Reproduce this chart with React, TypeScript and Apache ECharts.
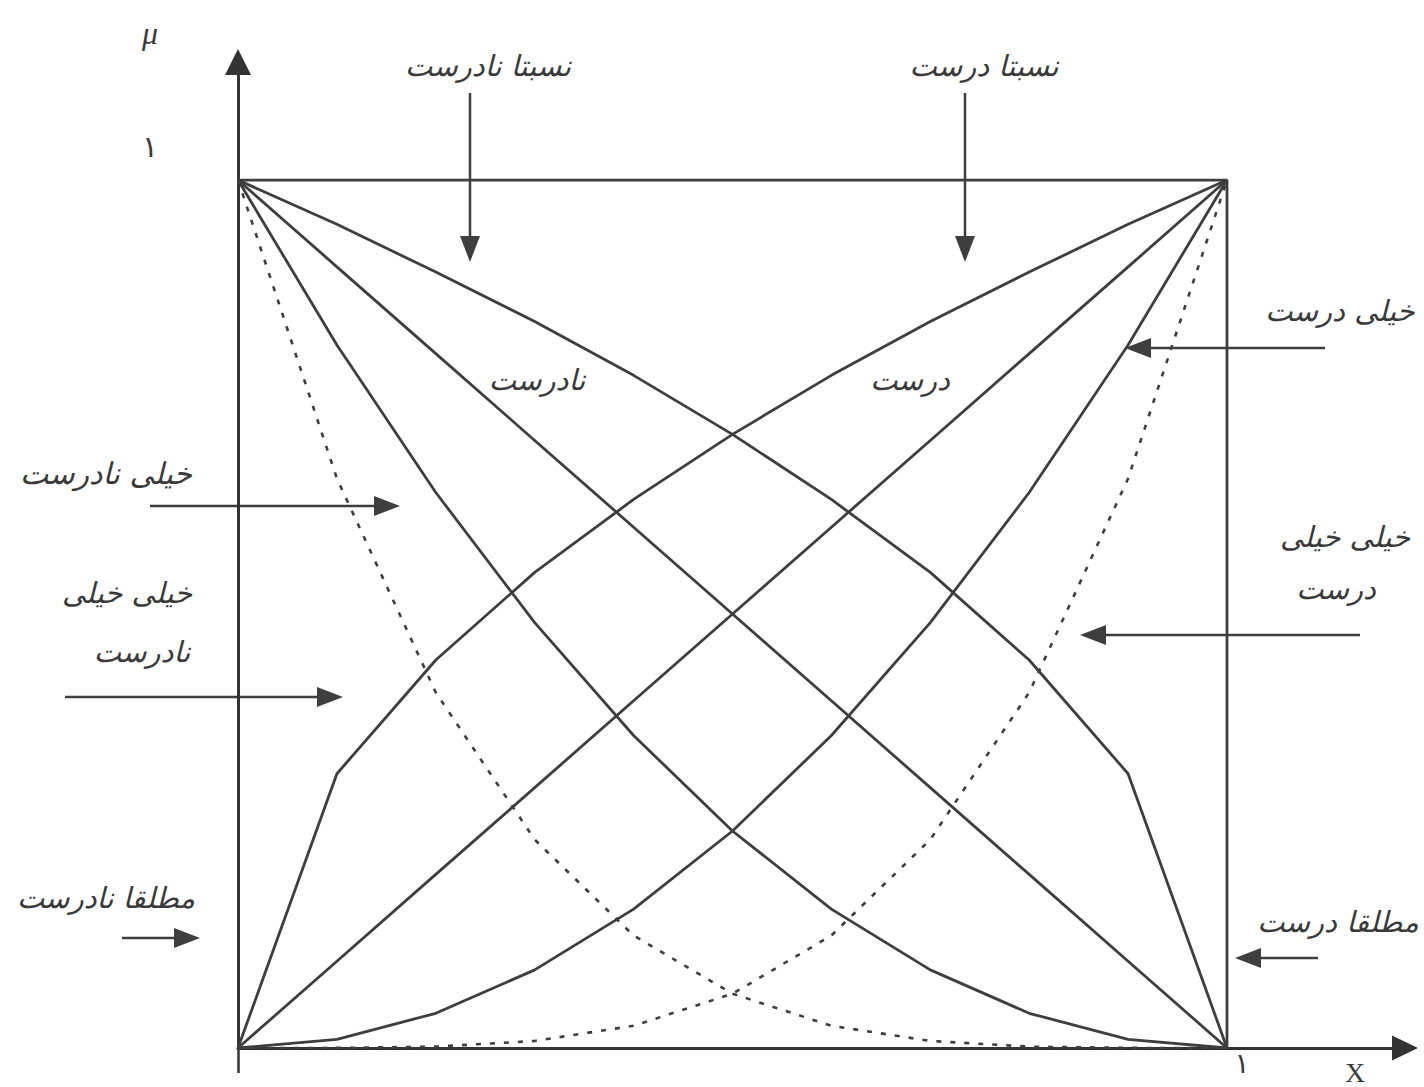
import React, { useEffect, useRef } from "react";
import * as echarts from "echarts";

// x positions of the polyline vertices
const xs = [0, 0.1, 0.2, 0.3, 0.4, 0.5, 0.6, 0.7, 0.8, 0.9, 1];
// rising curves (درست family)
const somewhatTrue = [0, 0.316, 0.447, 0.548, 0.632, 0.707, 0.775, 0.837, 0.894, 0.949, 1];
const trueVals = [0, 0.1, 0.2, 0.3, 0.4, 0.5, 0.6, 0.7, 0.8, 0.9, 1];
const veryTrue = [0, 0.01, 0.04, 0.09, 0.16, 0.25, 0.36, 0.49, 0.64, 0.81, 1];
const veryVeryTrue = [0, 0.0001, 0.0016, 0.0081, 0.0256, 0.0625, 0.1296, 0.2401, 0.4096, 0.6561, 1];
// falling curves (نادرست family)
const somewhatFalse = [1, 0.949, 0.894, 0.837, 0.775, 0.707, 0.632, 0.548, 0.447, 0.316, 0];
const falseVals = [1, 0.9, 0.8, 0.7, 0.6, 0.5, 0.4, 0.3, 0.2, 0.1, 0];
const veryFalse = [1, 0.81, 0.64, 0.49, 0.36, 0.25, 0.16, 0.09, 0.04, 0.01, 0];
const veryVeryFalse = [1, 0.6561, 0.4096, 0.2401, 0.1296, 0.0625, 0.0256, 0.0081, 0.0016, 0.0001, 0];
// frame: μ = 1 top line and absolutely-true vertical at x = 1
const frameX = [0, 1, 1];
const frameY = [1, 1, 0];

const xTickValues = [1];
const xTickLabels = ["۱"];
const yTickValues = [1];
const yTickLabels = ["۱"];

const LINE = "#3e3e3e";
const TEXT = "#3a3a3a";

function pairs(xv: number[], yv: number[]) {
  return xv.map((x, i) => [x, yv[i]]);
}

function arrow(x1: number, y1: number, x2: number, y2: number) {
  const dx = x2 - x1;
  const dy = y2 - y1;
  const len = Math.hypot(dx, dy);
  const ux = dx / len;
  const uy = dy / len;
  const hl = 26;
  const hw = 10;
  const bx = x2 - ux * hl;
  const by = y2 - uy * hl;
  return [
    {
      type: "line",
      shape: { x1, y1, x2: bx + ux * 2, y2: by + uy * 2 },
      style: { stroke: LINE, lineWidth: 2.5 },
    },
    {
      type: "polygon",
      shape: {
        points: [
          [x2, y2],
          [bx - uy * hw, by + ux * hw],
          [bx + uy * hw, by - ux * hw],
        ],
      },
      style: { fill: LINE },
    },
  ];
}

function label(text: string, x: number, y: number, size = 29) {
  return {
    type: "text",
    x,
    y,
    style: {
      text,
      fontSize: size,
      fontFamily: "DejaVu Sans",
      fontStyle: "italic",
      fill: TEXT,
      align: "center",
      verticalAlign: "middle",
    },
  };
}

export default function App() {
  const ref = useRef<HTMLDivElement>(null);

  useEffect(() => {
    if (!ref.current) return;
    const chart = echarts.init(ref.current, null, { renderer: "svg" });

    const solid = (name: string, xv: number[], yv: number[]) => ({
      name,
      type: "line",
      data: pairs(xv, yv),
      symbol: "none",
      lineStyle: { color: LINE, width: 2.8 },
      silent: true,
    });
    const dashed = (name: string, xv: number[], yv: number[]) => ({
      name,
      type: "line",
      data: pairs(xv, yv),
      symbol: "none",
      lineStyle: { color: LINE, width: 2.6, type: [5, 9] },
      silent: true,
    });

    const graphics: any[] = [
      ...arrow(470, 93, 470, 262),
      ...arrow(965, 93, 965, 262),
      ...arrow(1325, 348, 1125, 348),
      ...arrow(150, 506, 400, 506),
      ...arrow(65, 697, 343, 697),
      ...arrow(1360, 635, 1080, 635),
      ...arrow(122, 938, 200, 938),
      ...arrow(1318, 958, 1235, 958),
      label("نسبتا نادرست", 488, 66),
      label("نسبتا درست", 984, 66),
      label("خیلی درست", 1340, 311),
      label("نادرست", 537, 380),
      label("درست", 910, 380),
      label("خیلی نادرست", 106, 473, 30),
      label("خیلی خیلی", 127, 593),
      label("نادرست", 142, 652),
      label("خیلی خیلی", 1345, 537),
      label("درست", 1336, 589),
      label("مطلقا نادرست", 106, 898),
      label("مطلقا درست", 1338, 922),
      {
        type: "text",
        x: 150,
        y: 33,
        style: {
          text: "μ",
          fontSize: 32,
          fontFamily: "Liberation Serif",
          fontStyle: "italic",
          fill: TEXT,
          align: "center",
          verticalAlign: "middle",
        },
      },
      {
        type: "text",
        x: 1355,
        y: 1072,
        style: {
          text: "X",
          fontSize: 28,
          fontFamily: "Liberation Serif",
          fill: TEXT,
          align: "center",
          verticalAlign: "middle",
        },
      },
    ];

    chart.setOption({
      animation: false,
      backgroundColor: "#ffffff",
      grid: { left: 238, top: 62, right: 19, bottom: 39, containLabel: false },
      xAxis: {
        type: "value",
        min: 0,
        max: 1.18,
        splitLine: { show: false },
        axisLine: {
          show: true,
          lineStyle: { color: "#333", width: 3 },
          symbol: ["none", "triangle"],
          symbolSize: [25, 26],
        },
        axisTick: { show: true, customValues: [0], length: 25, lineStyle: { color: "#333", width: 2.5 } },
        axisLabel: {
          show: true,
          customValues: xTickValues,
          formatter: (v: number) => "{a|" + (xTickLabels[xTickValues.indexOf(v)] ?? "") + "}",
          rich: { a: { fontSize: 28, fontFamily: "DejaVu Sans", color: TEXT, padding: [0, 0, 0, 30] } },
          margin: 1,
        },
      },
      yAxis: {
        type: "value",
        min: 0,
        max: 1.136,
        splitLine: { show: false },
        axisLine: {
          show: true,
          lineStyle: { color: "#333", width: 3 },
          symbol: ["none", "triangle"],
          symbolSize: [26, 26],
        },
        axisTick: { show: false },
        axisLabel: {
          show: true,
          customValues: yTickValues,
          formatter: (v: number) => "{a|" + (yTickLabels[yTickValues.indexOf(v)] ?? "") + "}",
          rich: { a: { fontSize: 30, fontFamily: "DejaVu Sans", color: TEXT, padding: [0, 0, 68, 0] } },
          margin: 80,
        },
      },
      series: [
        solid("frame", frameX, frameY),
        solid("نسبتا درست", xs, somewhatTrue),
        solid("درست", xs, trueVals),
        solid("خیلی درست", xs, veryTrue),
        dashed("خیلی خیلی درست", xs, veryVeryTrue),
        solid("نسبتا نادرست", xs, somewhatFalse),
        solid("نادرست", xs, falseVals),
        solid("خیلی نادرست", xs, veryFalse),
        dashed("خیلی خیلی نادرست", xs, veryVeryFalse),
      ],
      graphic: graphics,
    });

    return () => chart.dispose();
  }, []);

  return (
    <div
      ref={ref}
      style={{ position: "fixed", left: 0, top: 0, width: 1424, height: 1087, background: "#fff" }}
    />
  );
}
